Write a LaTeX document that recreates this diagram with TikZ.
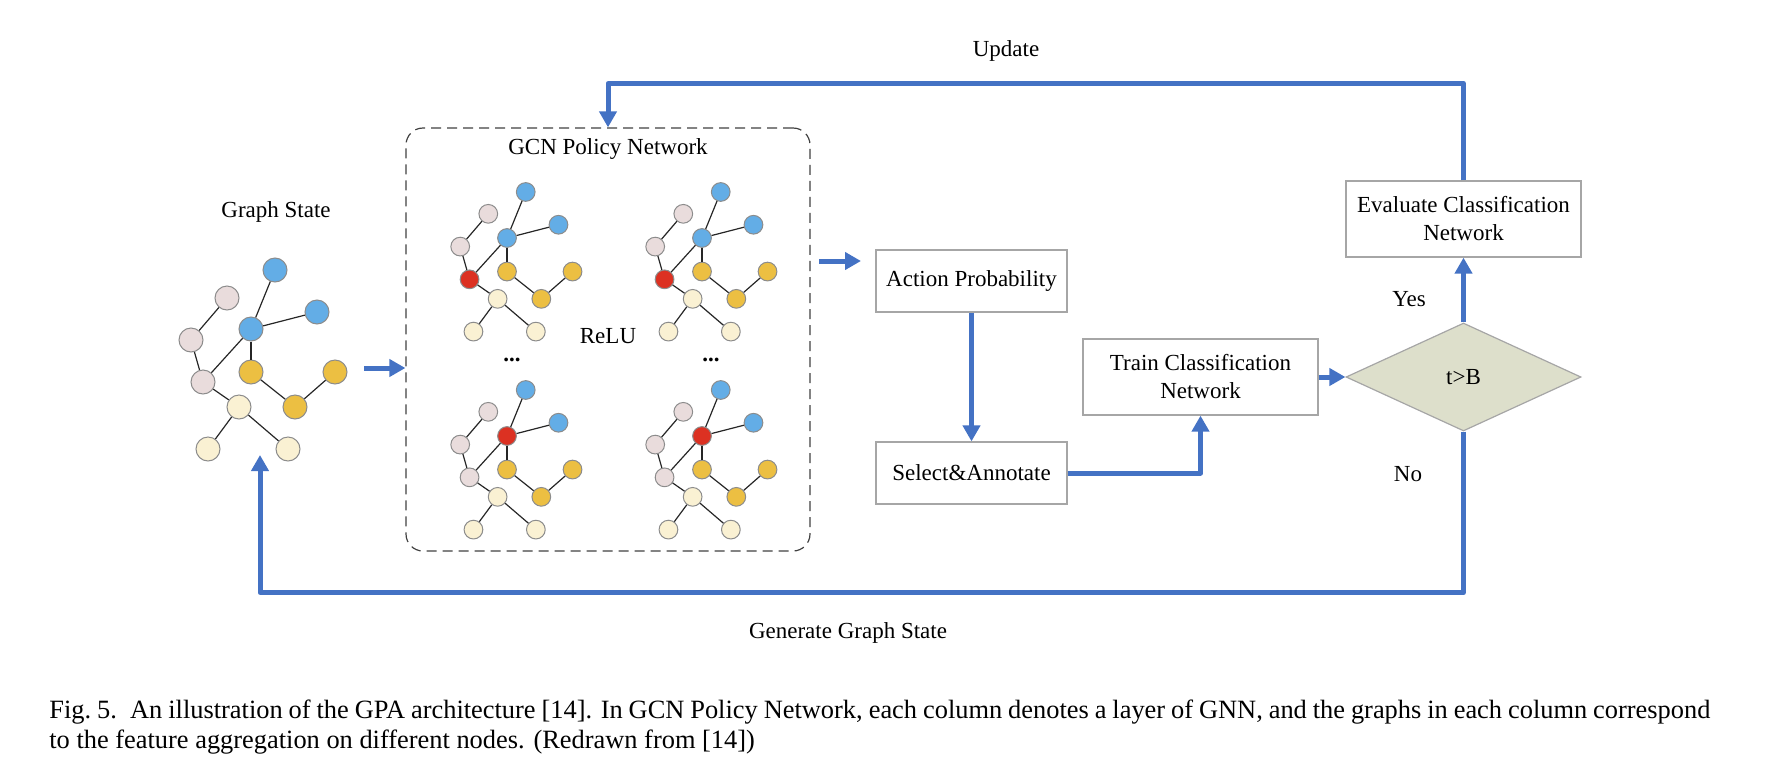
\documentclass[tikz,border=0pt]{standalone}
\usepackage{fontspec}
\setmainfont{Liberation Serif}
\usetikzlibrary{positioning,arrows.meta,shapes.geometric}

\definecolor{flowblue}{RGB}{68,114,196}
\definecolor{boxgray}{RGB}{166,166,166}
\definecolor{diafill}{RGB}{221,223,203}
\definecolor{gborder}{RGB}{140,140,140}
\definecolor{gblue}{RGB}{99,173,230}
\definecolor{gpink}{RGB}{233,220,220}
\definecolor{ggold}{RGB}{236,191,66}
\definecolor{gcream}{RGB}{250,241,211}
\definecolor{gred}{RGB}{220,49,34}

\begin{document}
\begin{tikzpicture}[x=0.5pt, y=-0.5pt,
    font=\fontsize{11.5}{14}\selectfont,
    flow/.style={draw=flowblue, line width=2.5pt, line join=round,
      -{Triangle[length=8pt,width=8.5pt]}},
    box/.style={draw=boxgray, line width=0.6pt, align=center,
      minimum width=95.5pt, minimum height=31pt, inner sep=2pt},
    widebox/.style={box, minimum width=117.5pt, minimum height=38pt},
    gnode/.style={circle, draw=gborder, line width=0.5pt, inner sep=0pt},
    gedge/.style={draw=black!85, line width=0.6pt}]
  \useasboundingbox (0,0) rectangle (1771,782);

  % graph state and the four GCN layer graphs
  \foreach \g/\gx/\gy/\gs/\gr in {G/251/329/1/0, A/507/238/0.78/8,
      B/702/238/0.78/8, C/507/436/0.78/1, D/702/436/0.78/1} {
    \begin{scope}[shift={(\gx,\gy)}]
      \foreach \n/\i/\px/\py/\c in {B0/1/0/0/gblue, B1/2/24/-59/gblue,
          B2/3/66/-17/gblue, P1/4/-24/-31/gpink, P2/5/-60/11/gpink,
          Y1/6/0/43/ggold, Y3/7/84/43/ggold, P3/8/-48/53/gpink,
          C1/9/-12/78/gcream, Y2/10/44/78/ggold, C2/11/-43/120/gcream,
          C3/12/37/120/gcream} {
        \ifnum\i=\gr \def\fc{gred}\else\edef\fc{\c}\fi
        \node[gnode, fill=\fc, minimum size={\gs*12pt}] (\g\n)
          at ({\gs*(\px)},{\gs*(\py)}) {};
      }
      \foreach \a/\b in {B0/B1, B0/B2, B0/Y1, B0/P3, P1/P2, P2/P3,
          P3/C1, Y1/Y2, Y2/Y3, C1/C2, C1/C3}
        \draw[gedge] (\g\a) -- (\g\b);
    \end{scope}
  }

  \node (gstate) at (276,212) {Graph State};
  \node[draw=black!75, dashed, dash pattern=on 5pt off 3pt, line width=0.6pt,
    rounded corners=8.5pt, minimum width=202pt, minimum height=211.5pt,
    inner sep=0pt] (gcn) at (608,339.5) {};
  \node (gcnlab) at (608,149) {GCN Policy Network};
  \node (relu) at (608,336) {ReLU};
  \node (dotsA) at (512,360) {\textbf{...}};
  \node (dotsB) at (711,360) {\textbf{...}};

  \node[box] (act) at (971.5,281) {Action Probability};
  \node[box] (sel) at (971.5,473) {Select\&Annotate};
  \node[widebox] (train) at (1200.5,377) {Train Classification\\Network};
  \node[widebox] (eval) at (1463.5,219) {Evaluate Classification\\Network};
  \node[diamond, draw=boxgray, fill=diafill, line width=0.6pt,
    minimum width=117.5pt, minimum height=54pt, inner sep=0pt]
    (dia) at (1463.5,377) {t>B};

  \node (yes) at (1409,299) {Yes};
  \node (no) at (1408,474) {No};
  \node (upd) at (1006,51) {Update};
  \node (gen) at (848,633) {Generate Graph State};

  \coordinate (gout) at (364,368);
  \coordinate (gin) at (260,455);
  \coordinate (pout) at (819,261);
  \coordinate (pin) at (861,261);

  % main flow
  \draw[flow] (gout) -- (gout -| gcn.west);
  \draw[flow] (pout) -- (pin);
  \draw[flow] (act) -- (sel);
  \draw[flow] (sel.east) -| (train.south);
  \draw[flow] (train) -- (dia);
  \draw[flow] (dia) -- (eval);

  % feedback loops
  \draw[flow] (eval.north) -- ++(0,-97) -| (gcn.north);
  \draw[flow] (dia.south) -- ++(0,161) -| (gin);

  \node[anchor=north west, inner sep=0pt, text width=830.5pt, align=justify,
    font=\fontsize{13.2}{15}\selectfont] (cap) at (49,699)
    {Fig.~5.\hspace{0.5em}An illustration of the GPA architecture [14]. In GCN Policy Network, each column denotes a layer of GNN, and the graphs in each column correspond\linebreak to the feature aggregation on different nodes. (Redrawn from [14])};
\end{tikzpicture}
\end{document}
